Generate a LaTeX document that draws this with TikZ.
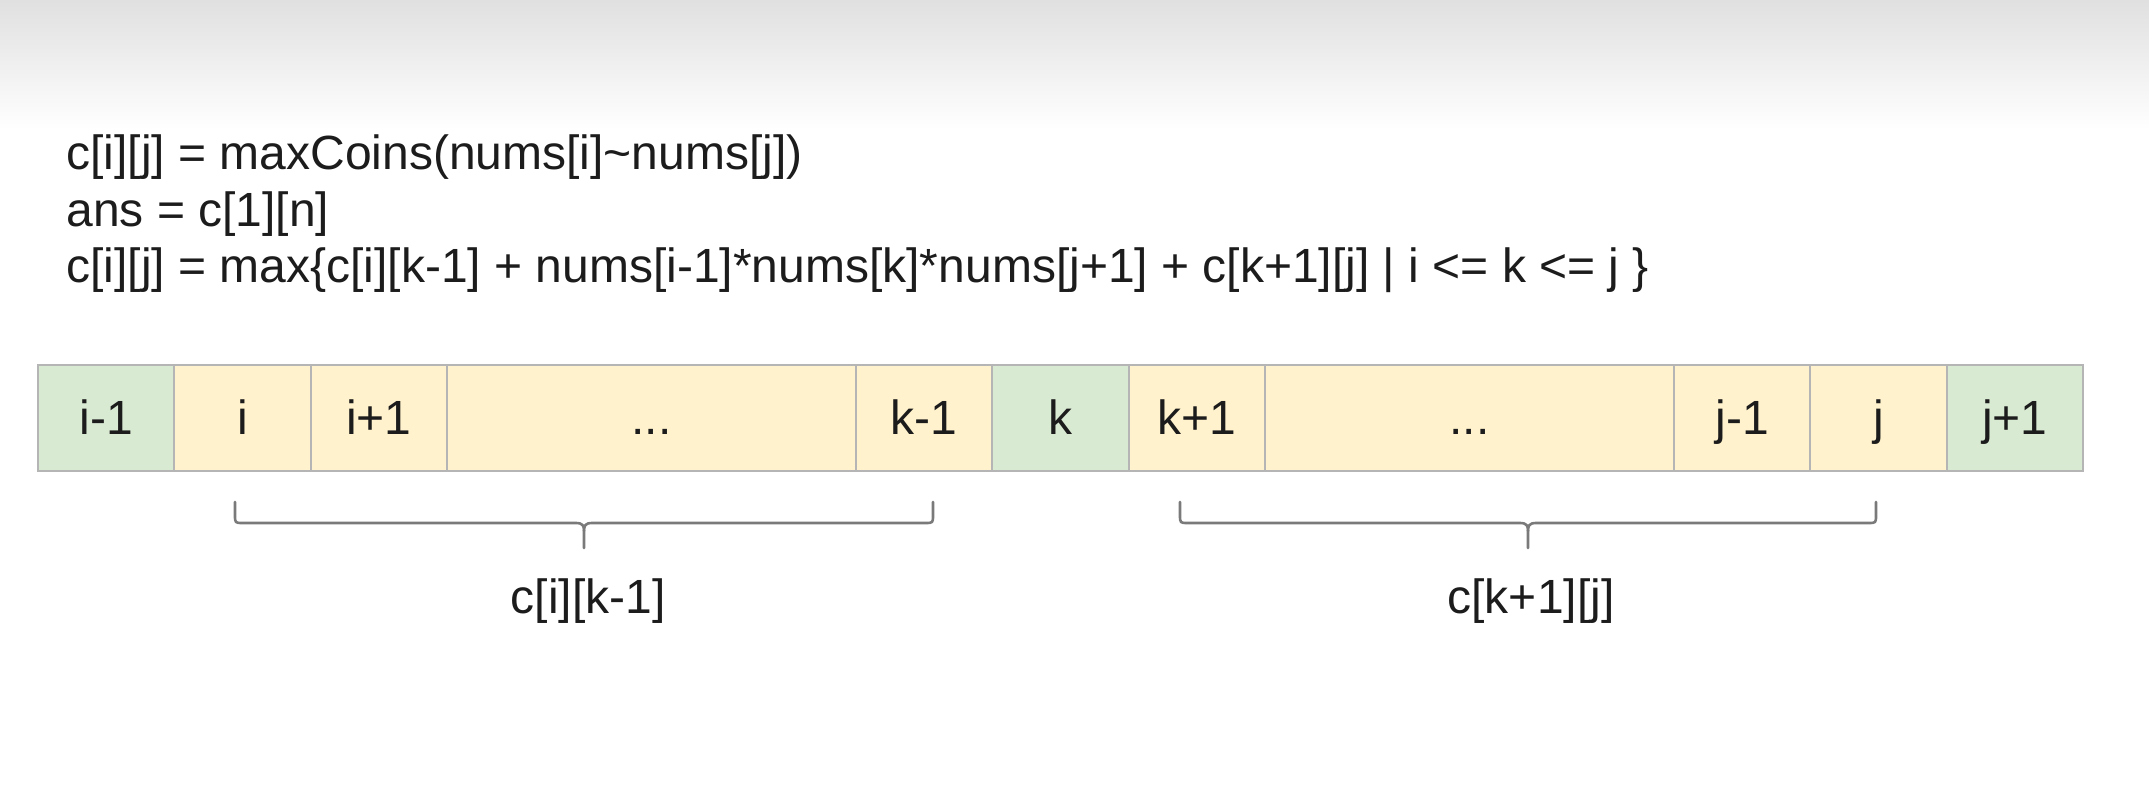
\documentclass[tikz,border=0pt]{standalone}
\usepackage{fontspec}
\setmainfont{Liberation Sans}
\definecolor{cellgreen}{HTML}{D9EAD3}
\definecolor{cellyellow}{HTML}{FFF2CC}
\definecolor{cellborder}{HTML}{B5B5B5}
\definecolor{bracegray}{HTML}{7A7A7A}
\definecolor{inktext}{HTML}{1C1C1C}
\definecolor{topgray}{HTML}{E0E0E0}
\definecolor{midgray}{HTML}{F5F5F5}
\begin{document}
\begin{tikzpicture}[x=0.5pt,y=-0.5pt,
  txt/.style={anchor=base west,inner sep=0pt,font=\fontsize{24pt}{28pt}\selectfont,text=inktext},
  lbl/.style={anchor=base,inner sep=0pt,font=\fontsize{24pt}{28pt}\selectfont,text=inktext},
  cellbase/.style={draw=cellborder,line width=1pt,anchor=north west,inner sep=0pt,
    minimum height=53pt,text height=17pt,text depth=0pt,
    font=\fontsize{24pt}{28pt}\selectfont,text=inktext},
  cg/.style={cellbase,fill=cellgreen,minimum width=68.165pt},
  cy/.style={cellbase,fill=cellyellow,minimum width=68.165pt},
  cyw/.style={cellbase,fill=cellyellow,minimum width=204.5pt},
  bracestyle/.style={draw=bracegray,line width=1.3pt,line cap=round,line join=round}]
\useasboundingbox (0,0) rectangle (2149,786);
\fill[white] (0,0) rectangle (2149,786);
\shade[top color=topgray,middle color=midgray,bottom color=white] (0,0) rectangle (2149,130);
% formulas
\node[txt] (f1) at (66,170) {c[i][j] = maxCoins(nums[i]\string~nums[j])};
\node[txt] (f2) at (66,227) {ans = c[1][n]};
\node[txt] (f3) at (66,283) {c[i][j] = max\{c[i][k-1] + nums[i-1]*nums[k]*nums[j+1] + c[k+1][j] | i <= k <= j \}};
% cells
\node[cg]  (c0)  at (37,364)    {i-1};
\node[cy]  (c1)  at (173.3,364) {i};
\node[cy]  (c2)  at (309.7,364) {i+1};
\node[cyw] (c3)  at (446,364)   {...};
\node[cy]  (c4)  at (855,364)   {k-1};
\node[cg]  (c5)  at (991.3,364) {k};
\node[cy]  (c6)  at (1127.7,364){k+1};
\node[cyw] (c7)  at (1264,364)  {...};
\node[cy]  (c8)  at (1673,364)  {j-1};
\node[cy]  (c9)  at (1809.3,364){j};
\node[cg]  (c10) at (1945.7,364){j+1};
% braces
\draw[bracestyle] (235,502) -- (235,515) .. controls (235,523) .. (243,523) -- (576,523)
  .. controls (583,523) and (584,526) .. (584,531) -- (584,548);
\draw[bracestyle] (584,531) .. controls (584,526) and (585,523) .. (592,523) -- (925,523)
  .. controls (933,523) .. (933,515) -- (933,502);
\draw[bracestyle] (1180,502) -- (1180,515) .. controls (1180,523) .. (1188,523) -- (1520,523)
  .. controls (1527,523) and (1528,526) .. (1528,531) -- (1528,548);
\draw[bracestyle] (1528,531) .. controls (1528,526) and (1529,523) .. (1536,523) -- (1868,523)
  .. controls (1876,523) .. (1876,515) -- (1876,502);
% labels
\node[lbl] (l1) at (588,613) {c[i][k-1]};
\node[lbl] (l2) at (1531,613) {c[k+1][j]};
\end{tikzpicture}
\end{document}
